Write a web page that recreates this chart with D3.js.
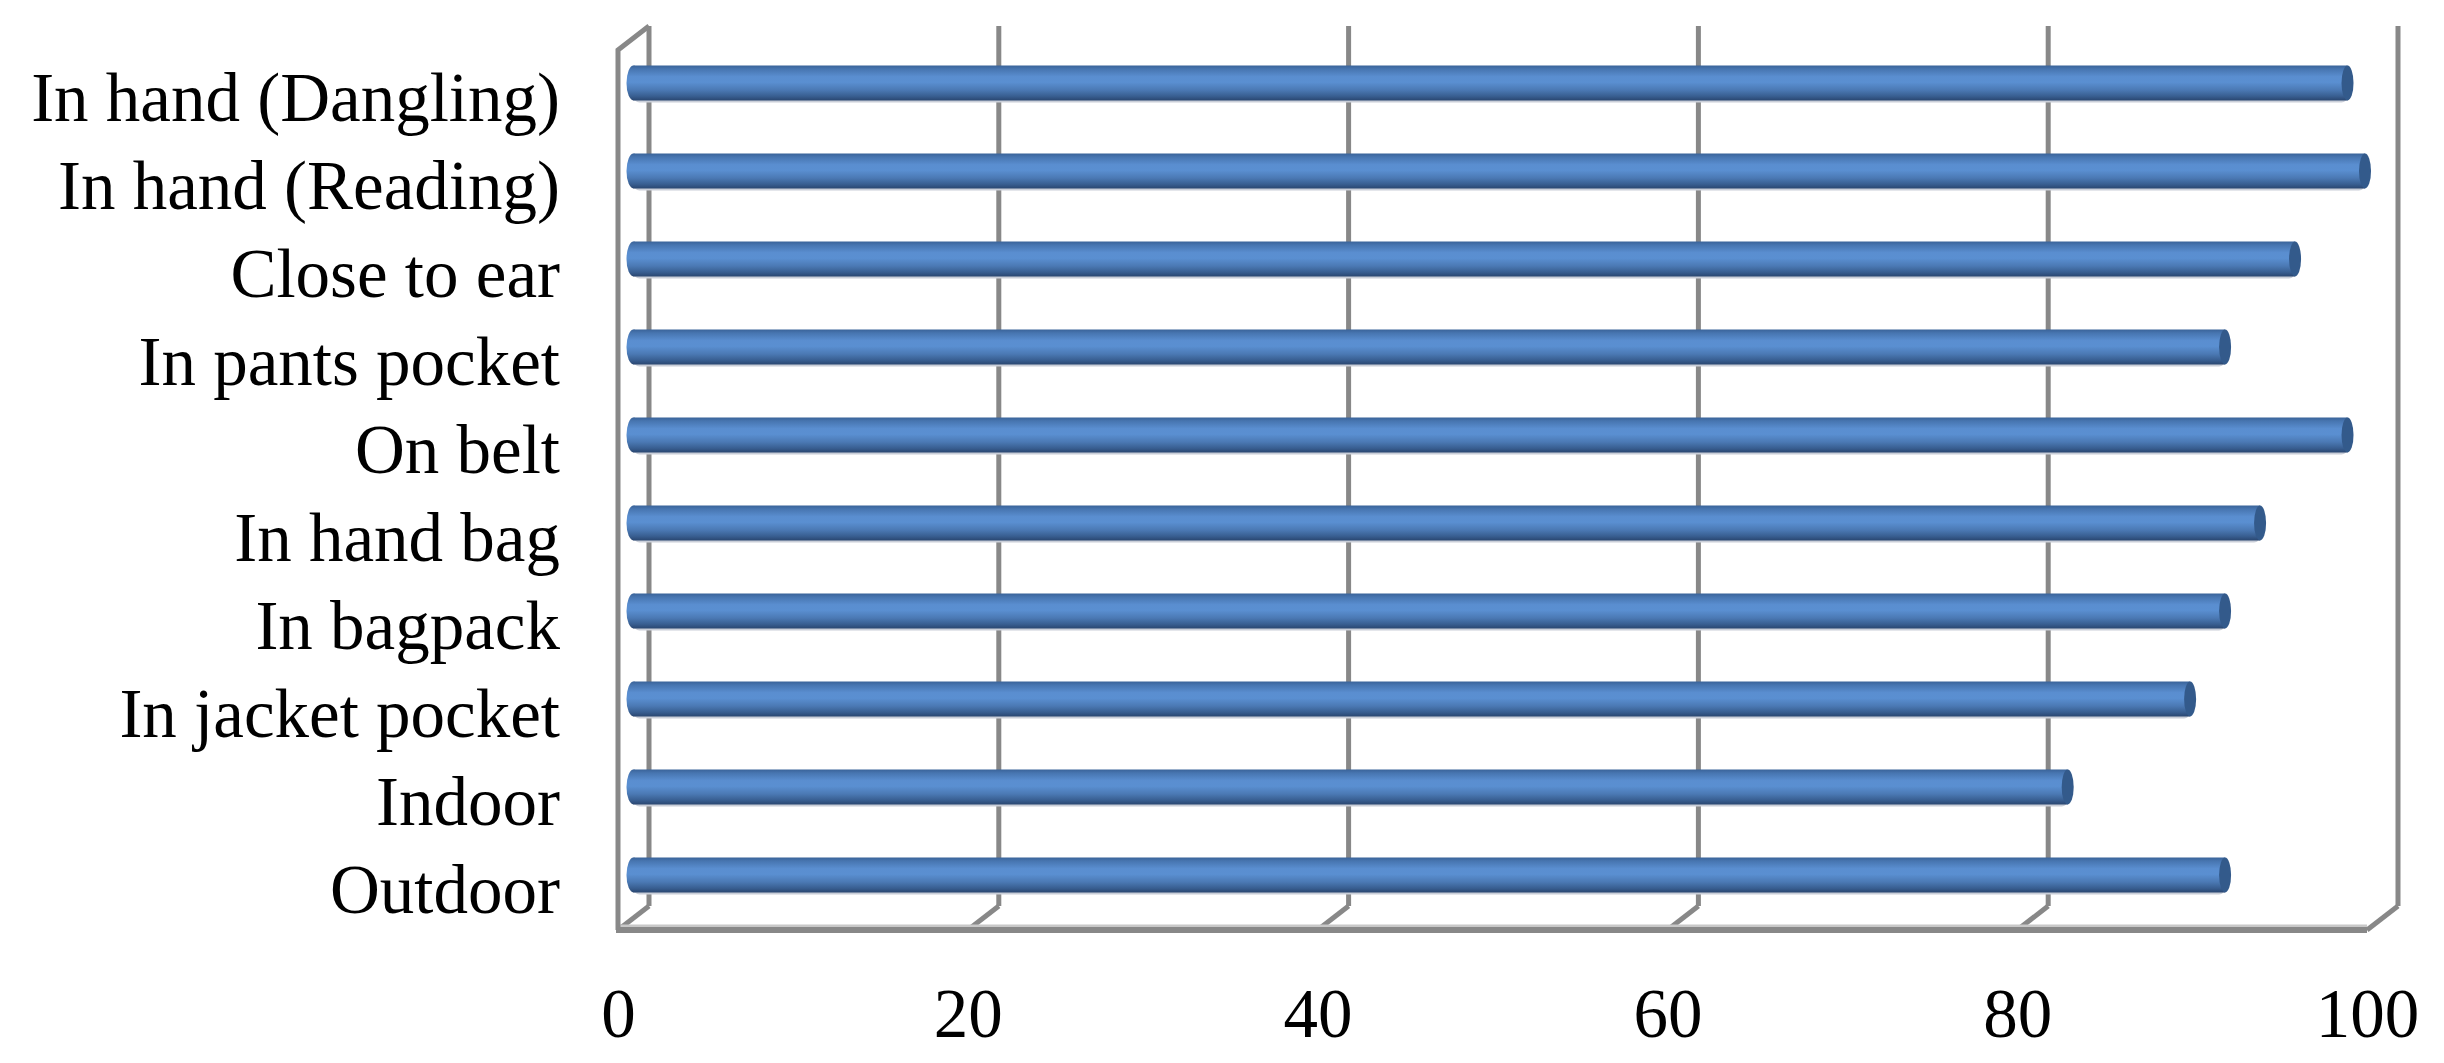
<!DOCTYPE html>
<html>
<head>
<meta charset="utf-8">
<script src="https://cdn.jsdelivr.net/npm/d3@7"></script>
<style>
  body { margin: 0; background: #fff; }
  text { font-family: "Times New Roman", "Liberation Serif", serif; fill: #000; }
</style>
</head>
<body>
<div id="chart"></div>
<script>
// data
var categories = ["In hand (Dangling)", "In hand (Reading)", "Close to ear", "In pants pocket",
  "On belt", "In hand bag", "In bagpack", "In jacket pocket", "Indoor", "Outdoor"];
var values = [98, 99, 95, 91, 98, 93, 91, 89, 82, 91];
var ticks = [0, 20, 40, 60, 80, 100];

var svgWidth = 2444;
var svgHeight = 1063;

// back wall plane and the depth offset of the 3D box
var back = { left: 649, top: 26, bottom: 906 };
var depth = { dx: -31, dy: 24 };
var plotW = 1749;

var svg = d3.select("#chart")
  .append("svg")
  .attr("width", svgWidth)
  .attr("height", svgHeight);

var x = d3.scaleLinear().domain([0, 100]).range([0, plotW]);
var y = d3.scaleBand().domain(categories).range([back.top, back.bottom]).padding(0);

var grey = "#888888";

// gradient for the cylinders
var defs = svg.append("defs");
var grad = defs.append("linearGradient")
  .attr("id", "cyl").attr("x1", 0).attr("y1", 0).attr("x2", 0).attr("y2", 1);
[[0, "#3a6399"], [0.1, "#4775b0"], [0.32, "#5a8ed0"], [0.48, "#5a8fd1"],
 [0.7, "#4b79b4"], [0.88, "#385e90"], [1, "#2a4670"]].forEach(function(s) {
  grad.append("stop").attr("offset", s[0]).attr("stop-color", s[1]);
});

var frame = svg.append("g");

// back wall gridlines
frame.selectAll(".grid")
  .data(ticks)
  .enter()
  .append("line")
  .attr("x1", d => back.left + x(d))
  .attr("x2", d => back.left + x(d))
  .attr("y1", back.top)
  .attr("y2", back.bottom)
  .attr("stroke", grey)
  .attr("stroke-width", 5);

// floor: diagonals from back wall to front edge
frame.selectAll(".floor")
  .data(ticks)
  .enter()
  .append("line")
  .attr("x1", d => back.left + x(d))
  .attr("y1", back.bottom)
  .attr("x2", d => back.left + x(d) + depth.dx)
  .attr("y2", back.bottom + depth.dy)
  .attr("stroke", grey)
  .attr("stroke-width", 5);

// floor front edge (lighter top rim + darker line)
frame.append("line")
  .attr("x1", back.left + depth.dx)
  .attr("x2", back.left + x(100) + depth.dx)
  .attr("y1", back.bottom + depth.dy - 4)
  .attr("y2", back.bottom + depth.dy - 4)
  .attr("stroke", "#c8c8c8")
  .attr("stroke-width", 3);
frame.append("line")
  .attr("x1", back.left + depth.dx - 2)
  .attr("x2", back.left + x(100) + depth.dx)
  .attr("y1", back.bottom + depth.dy)
  .attr("y2", back.bottom + depth.dy)
  .attr("stroke", grey)
  .attr("stroke-width", 6);

// left side wall front edge
frame.append("path")
  .attr("d", `M${back.left + depth.dx},${back.bottom + depth.dy} L${back.left + depth.dx},${back.top + depth.dy} L${back.left},${back.top}`)
  .attr("fill", "none")
  .attr("stroke", grey)
  .attr("stroke-width", 5)
  .attr("stroke-linejoin", "miter");

// bars (cylinders) sit half way through the depth
var x0 = back.left + depth.dx / 2;
var yOff = depth.dy / 2 + 1;
var barH = 35;
var capRx = 6;

var bars = svg.append("g").selectAll("g")
  .data(categories.map((c, i) => ({ cat: c, val: values[i] })))
  .enter()
  .append("g")
  .attr("transform", d => `translate(0, ${y(d.cat) + y.bandwidth() / 2 + yOff})`);

// faint shadow under the bar
bars.append("rect")
  .attr("x", x0)
  .attr("y", -barH / 2 + 2)
  .attr("width", d => x(d.val))
  .attr("height", barH)
  .attr("rx", capRx)
  .attr("fill", "#c9ced8");

bars.append("ellipse")
  .attr("cx", x0)
  .attr("cy", 0)
  .attr("rx", capRx + 1)
  .attr("ry", barH / 2)
  .attr("fill", "url(#cyl)");

bars.append("rect")
  .attr("x", x0)
  .attr("y", -barH / 2)
  .attr("width", d => x(d.val))
  .attr("height", barH)
  .attr("fill", "url(#cyl)");

bars.append("ellipse")
  .attr("cx", d => x0 + x(d.val))
  .attr("cy", 0)
  .attr("rx", capRx)
  .attr("ry", barH / 2)
  .attr("fill", "#335a8b");

// category labels on the front plane
var leftAxis = d3.axisLeft(y).tickSize(0).tickPadding(0);
svg.append("g")
  .attr("transform", `translate(560, ${depth.dy + 3})`)
  .call(leftAxis)
  .call(g => g.select(".domain").remove())
  .selectAll("text")
  .attr("font-family", "'Times New Roman', 'Liberation Serif', serif")
  .attr("font-size", 69)
  .attr("dy", "0.35em");

// value tick labels under the front floor edge
var bottomAxis = d3.axisBottom(x).tickValues(ticks).tickSize(0).tickPadding(0);
svg.append("g")
  .attr("transform", `translate(${back.left + depth.dx}, 1037)`)
  .call(bottomAxis)
  .call(g => g.select(".domain").remove())
  .selectAll("text")
  .attr("font-family", "'Times New Roman', 'Liberation Serif', serif")
  .attr("font-size", 69)
  .attr("dy", 0);
</script>
</body>
</html>
